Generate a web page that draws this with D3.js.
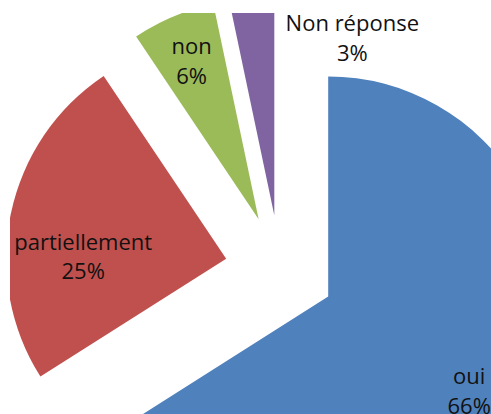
<!DOCTYPE html>
<html>
<head>
<meta charset="utf-8">
<script src="https://cdn.jsdelivr.net/npm/d3@7"></script>
<style>
  html, body { margin: 0; padding: 0; background: #fff; }
  svg { display: block; }
</style>
</head>
<body>
<svg id="chart" width="491" height="414"></svg>
<script>
// ---- data ----
const categories = ["oui", "partiellement", "non", "Non réponse"];
const values = [66.0, 24.6, 6.1, 3.3];
const colors = ["#4F81BD", "#C0504D", "#9BBB59", "#8064A2"];

// ---- layout ----
const W = 491, H = 414;
const cx = 280, cy = 270;
const radius = 220;
const explode = 55;
const fontSize = 22;
const lineGap = 29.5;
// label first-line anchors relative to each exploded slice's vertex
const labelOffsets = [[141, 88], [-143, -9], [-67, -165], [78, -184]];

const svg = d3.select("#chart");

svg.append("defs").append("clipPath").attr("id", "plotClip")
  .append("rect").attr("x", 10).attr("y", 13).attr("width", W - 10).attr("height", H - 13);

const pie = d3.pie().sort(null).value(d => d.value);
const arc = d3.arc().innerRadius(0).outerRadius(radius);

const data = categories.map((c, i) => ({ name: c, value: values[i], color: colors[i] }));
const arcs = pie(data);
const total = d3.sum(values);

const root = svg.append("g").attr("clip-path", "url(#plotClip)");
const center = root.append("g").attr("transform", `translate(${cx},${cy})`);

function offsetOf(d) {
  const mid = (d.startAngle + d.endAngle) / 2;
  return [explode * Math.sin(mid), -explode * Math.cos(mid)];
}

const slices = center.selectAll("g.slice").data(arcs).join("g")
  .attr("class", "slice")
  .attr("transform", d => { const o = offsetOf(d); return `translate(${o[0]},${o[1]})`; });

slices.append("path")
  .attr("d", arc)
  .attr("fill", d => d.data.color);

// labels
const labels = center.selectAll("text.lbl").data(arcs).join("text")
  .attr("class", "lbl")
  .attr("text-anchor", "middle")
  .attr("font-family", "'Open Sans', 'Noto Sans', sans-serif")
  .attr("font-size", fontSize)
  .attr("fill", "#111")
  .attr("transform", (d, i) => {
    const o = offsetOf(d);
    return `translate(${o[0] + labelOffsets[i][0]},${o[1] + labelOffsets[i][1]})`;
  });

labels.append("tspan").attr("x", 0).attr("y", 0).text(d => d.data.name);
labels.append("tspan").attr("x", 0).attr("y", lineGap)
  .text(d => Math.round(d.data.value / total * 100) + "%");
</script>
</body>
</html>
